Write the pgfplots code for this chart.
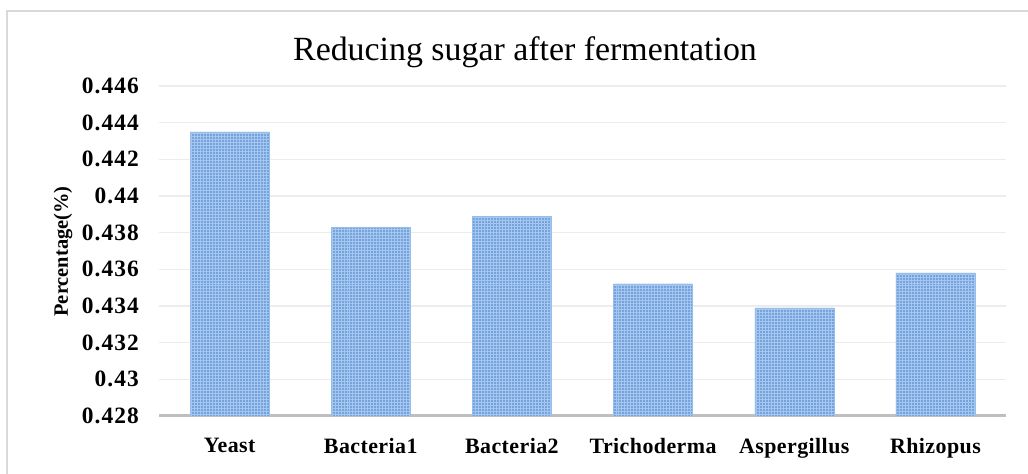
\documentclass[border=0pt]{standalone}
\usepackage{pgfplots}
\pgfplotsset{compat=1.18}
\usetikzlibrary{patterns}
\usepackage{fontspec}
\setmainfont{Liberation Serif}
\definecolor{barblue}{RGB}{118,163,220}
\definecolor{barblueedge}{RGB}{150,190,235}
\definecolor{barlight}{RGB}{165,198,238}
\definecolor{gridgray}{RGB}{236,236,236}
\definecolor{axgray}{RGB}{191,191,191}
\definecolor{framegray}{RGB}{217,217,217}
\begin{document}
\begin{tikzpicture}[x=1bp,y=1bp]
\path[use as bounding box] (0,0) rectangle (1028,474);
\draw[framegray, line width=1.5bp] (7,-5) -- (7,463) -- (1035,463);
\node[font=\fontsize{34}{38}\selectfont] at (525,422) {Reducing sugar after fermentation};
\node[rotate=90, font=\fontsize{20.5}{24}\selectfont\bfseries] at (63,222.5) {Percentage(\%)};
\begin{axis}[
  at={(159bp,58bp)}, anchor=south west,
  scale only axis, width=847bp, height=330bp,
  xmin=-0.5, xmax=5.5, ymin=0.428, ymax=0.446,
  ybar, bar width=79bp,
  xtick={0,1,2,3,4,5},
  xticklabels={Yeast,Bacteria1,Bacteria2,Trichoderma,Aspergillus,Rhizopus},
  ytick={0.428,0.430,0.432,0.434,0.436,0.438,0.440,0.442,0.444,0.446},
  yticklabels={0.428,0.43,0.432,0.434,0.436,0.438,0.44,0.442,0.444,0.446},
  major tick length=0pt,
  ymajorgrids, grid style={gridgray, line width=1.5bp},
  axis x line*=bottom, axis y line*=left,
  x axis line style={axgray, line width=3bp, -},
  y axis line style={draw=none},
  yticklabel style={font=\fontsize{23.5}{26}\selectfont\bfseries\addfontfeatures{LetterSpace=4.5}, anchor=east, inner sep=0pt, xshift=-20bp},
  xticklabel style={font=\fontsize{22}{26}\selectfont\bfseries\addfontfeatures{LetterSpace=2}, anchor=north, inner sep=0pt, yshift=-22bp},
  clip=true,
]
\addplot[fill=barblue, draw=barblueedge, line width=0.5bp,
  postaction={pattern=grid, pattern color=barlight}] coordinates {
  (0,0.4435) (1,0.4383) (2,0.4389) (3,0.4352) (4,0.4339) (5,0.4358)
};
\end{axis}
\end{tikzpicture}
\end{document}
